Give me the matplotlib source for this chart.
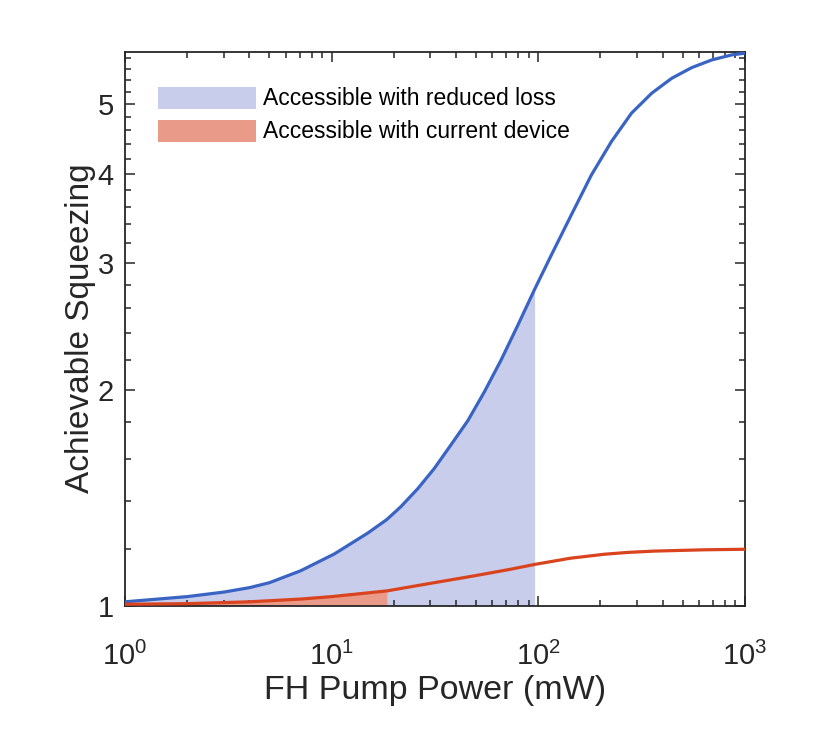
import numpy as np
import matplotlib
matplotlib.use('Agg')
import matplotlib.pyplot as plt
from matplotlib.patches import Patch
from matplotlib.ticker import FixedLocator, NullFormatter, LogLocator

plt.rcParams['font.family'] = ['Liberation Sans', 'DejaVu Sans']
plt.rcParams['mathtext.fontset'] = 'custom'
plt.rcParams['mathtext.rm'] = 'Liberation Sans'
plt.rcParams['mathtext.it'] = 'Liberation Sans:italic'

# values (pump power in mW, squeezing)
power_reduced = [1, 2, 3, 4, 5, 7.08, 10.3, 14.9, 18.5, 21.6, 26.1, 31.4, 37.8, 45.6,
                 54.8, 66.1, 79.7, 96, 115.6, 144.5, 180.7, 226, 282.5, 354, 442.6,
                 553, 692, 865, 1000]
squeeze_reduced = [1.012, 1.029, 1.044, 1.059, 1.076, 1.118, 1.180, 1.261, 1.318, 1.373,
                   1.455, 1.553, 1.675, 1.81, 1.985, 2.20, 2.461, 2.76, 3.08, 3.505,
                   3.984, 4.436, 4.859, 5.181, 5.436, 5.625, 5.766, 5.860, 5.892]

power_current = [1, 2, 4, 7.1, 10, 18.5, 30.2, 49, 74, 96, 143, 209, 272, 366, 640, 1000]
squeeze_current = [1.004, 1.006, 1.012, 1.021, 1.029, 1.048, 1.074, 1.100, 1.124, 1.141,
                   1.164, 1.179, 1.186, 1.191, 1.196, 1.198]

reduced_limit = 96    # mW, end of the blue shaded region
current_limit = 18.5  # mW, end of the red shaded region

blue = '#3a64c3'
red = '#d9441f'
blue_fill = '#c9cdec'
red_fill = '#e99a88'
axis_col = '#262626'

fig = plt.figure(figsize=(8.31, 7.47), dpi=100)
ax = fig.add_axes([0.1504, 0.1894, 0.746, 0.7414])

pr = np.array(power_reduced)
sr = np.array(squeeze_reduced)
pc = np.array(power_current)
sc = np.array(squeeze_current)

m = pr <= reduced_limit
ax.fill_between(pr[m], 1, sr[m], color=blue_fill, lw=0, zorder=1)
m = pc <= current_limit
ax.fill_between(pc[m], 1, sc[m], color=red_fill, lw=0, zorder=2)

ax.plot(pr, sr, color=blue, lw=2.3, zorder=3, solid_joinstyle='round')
ax.plot(pc, sc, color=red, lw=2.3, zorder=3, solid_joinstyle='round')

ax.set_xscale('log')
ax.set_yscale('log')
ax.set_xlim(1, 1000)
ax.set_ylim(1, 5.92)

ax.xaxis.set_major_locator(LogLocator(base=10, numticks=10))
ax.xaxis.set_minor_locator(LogLocator(base=10, subs=np.arange(2, 10), numticks=10))
ax.xaxis.set_minor_formatter(NullFormatter())

ax.yaxis.set_major_locator(FixedLocator([1, 2, 3, 4, 5]))
ax.yaxis.set_minor_locator(FixedLocator([v for v in np.arange(1.2, 5.9, 0.2)
                                         if abs(v - round(v)) > 0.05]))
ax.yaxis.set_minor_formatter(NullFormatter())
ax.set_yticklabels(['1', '2', '3', '4', '5'])

for s in ax.spines.values():
    s.set_color(axis_col)
    s.set_linewidth(1.3)
ax.tick_params(which='both', direction='in', top=True, right=True,
               color=axis_col, labelcolor=axis_col, width=1.1)
ax.tick_params(which='major', length=7, labelsize=21)
ax.tick_params(which='minor', length=4)
ax.tick_params(axis='x', which='major', pad=26)
ax.tick_params(axis='y', which='major', pad=8)

ax.set_xlabel('FH Pump Power (mW)', fontsize=24.5, color=axis_col, labelpad=3)
ax.set_ylabel('Achievable Squeezing', fontsize=24, color=axis_col, labelpad=1)

handles = [Patch(facecolor=blue_fill, edgecolor='none', label='Accessible with reduced loss'),
           Patch(facecolor=red_fill, edgecolor='none', label='Accessible with current device')]
ax.legend(handles=handles, loc='upper left', bbox_to_anchor=(0.053, 0.937),
          frameon=False, fontsize=16.5, handlelength=4.3, handleheight=1.1,
          handletextpad=0.3, labelspacing=0.4, borderpad=0, borderaxespad=0)

fig.savefig('out.png', dpi=100)
